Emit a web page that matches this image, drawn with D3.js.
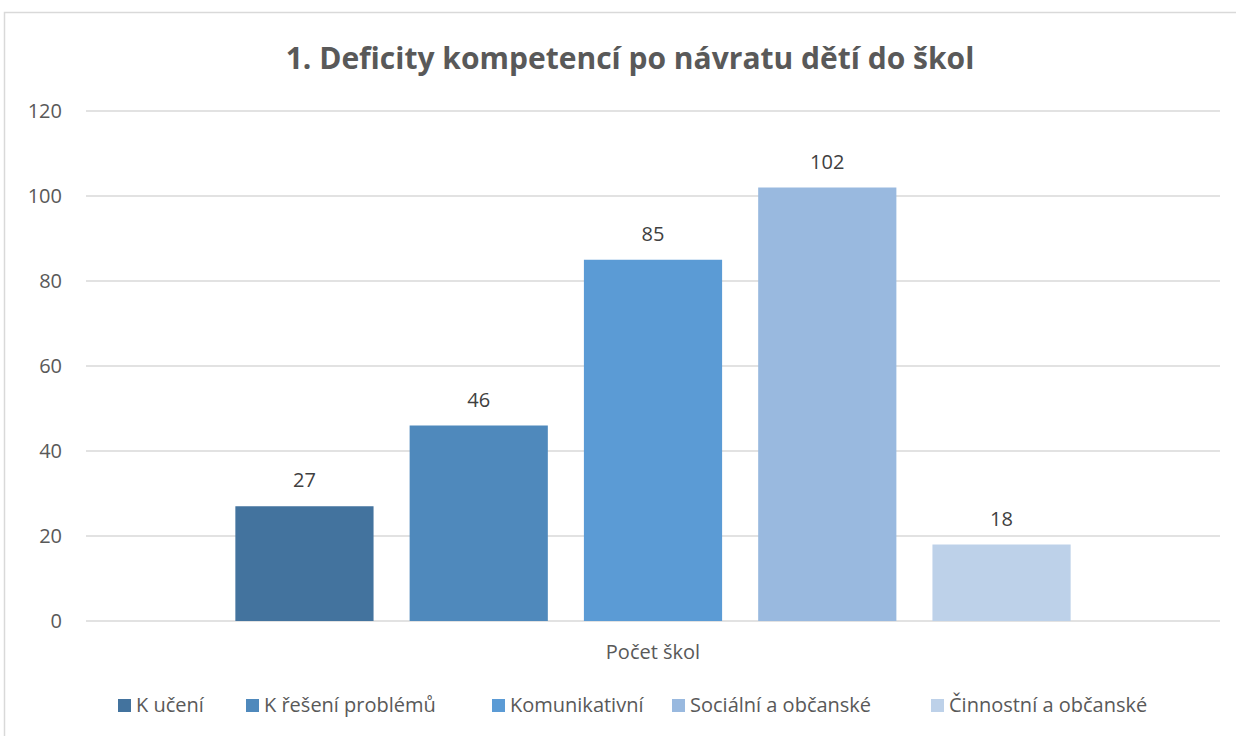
<!DOCTYPE html>
<html>
<head>
<meta charset="utf-8">
<script src="https://cdn.jsdelivr.net/npm/d3@7"></script>
<style>
  body { margin: 0; background: #fff; }
  text { font-family: "Open Sans", "Noto Sans", sans-serif; }
</style>
</head>
<body>
<div id="chart"></div>
<script>
"use strict";

const title = "1. Deficity kompetencí po návratu dětí do škol";
const category = "Počet škol";
const seriesNames = ["K učení", "K řešení problémů", "Komunikativní", "Sociální a občanské", "Činnostní a občanské"];
const seriesValues = [27, 46, 85, 102, 18];
const seriesColors = ["#43739e", "#4f89bc", "#5b9bd5", "#99b9df", "#bdd1e9"];
const yTicks = [0, 20, 40, 60, 80, 100, 120];

const W = 1236, H = 736;
const margin = { top: 111, right: 16, bottom: 115, left: 86 };
const width = W - margin.left - margin.right;
const height = H - margin.top - margin.bottom;

const svg = d3.select("#chart")
  .append("svg")
  .attr("width", W)
  .attr("height", H);

// outer chart frame
svg.append("rect")
  .attr("x", 4.5).attr("y", 12.5)
  .attr("width", W + 10).attr("height", H + 10)
  .attr("fill", "none")
  .attr("stroke", "#d9d9d9")
  .attr("stroke-width", 1.5);

svg.append("text")
  .attr("x", 630)
  .attr("y", 69)
  .attr("text-anchor", "middle")
  .attr("font-size", 30)
  .attr("font-weight", "bold")
  .attr("fill", "#595959")
  .text(title);

const g = svg.append("g")
  .attr("transform", "translate(" + margin.left + "," + margin.top + ")");

const yScale = d3.scaleLinear()
  .domain([0, 120])
  .range([height, 0]);

const xScale = d3.scaleBand()
  .domain(seriesNames)
  .range([0, width])
  .paddingInner(0.207)
  .paddingOuter(0.857);

// gridlines
g.append("g")
  .selectAll("line")
  .data(yTicks)
  .join("line")
  .attr("x1", 0).attr("x2", width)
  .attr("y1", d => yScale(d)).attr("y2", d => yScale(d))
  .attr("stroke", "#d9d9d9")
  .attr("stroke-width", 1.5);

// y labels
g.append("g")
  .selectAll("text")
  .data(yTicks)
  .join("text")
  .attr("x", -24)
  .attr("y", d => yScale(d))
  .attr("dy", "0.35em")
  .attr("text-anchor", "end")
  .attr("font-size", 20)
  .attr("fill", "#595959")
  .text(d => d);

const data = seriesNames.map((n, i) => ({ name: n, value: seriesValues[i], color: seriesColors[i] }));

g.append("g")
  .selectAll("rect")
  .data(data)
  .join("rect")
  .attr("x", d => xScale(d.name))
  .attr("y", d => yScale(d.value))
  .attr("width", xScale.bandwidth())
  .attr("height", d => height - yScale(d.value))
  .attr("fill", d => d.color);

g.append("g")
  .selectAll("text")
  .data(data)
  .join("text")
  .attr("x", d => xScale(d.name) + xScale.bandwidth() / 2)
  .attr("y", d => yScale(d.value) - 19)
  .attr("text-anchor", "middle")
  .attr("font-size", 20)
  .attr("fill", "#404040")
  .text(d => d.value);

// category label
g.append("text")
  .attr("x", width / 2)
  .attr("y", height + 38)
  .attr("text-anchor", "middle")
  .attr("font-size", 20)
  .attr("fill", "#595959")
  .text(category);

// legend
const legendX = [118, 246, 492, 672, 931];
const legend = svg.append("g")
  .selectAll("g")
  .data(data)
  .join("g")
  .attr("transform", (d, i) => "translate(" + legendX[i] + ",705)");

legend.append("rect")
  .attr("x", 0).attr("y", -6)
  .attr("width", 13).attr("height", 13)
  .attr("fill", d => d.color);

legend.append("text")
  .attr("x", 18)
  .attr("dy", "0.35em")
  .attr("font-size", 20)
  .attr("fill", "#595959")
  .text(d => d.name);
</script>
</body>
</html>
